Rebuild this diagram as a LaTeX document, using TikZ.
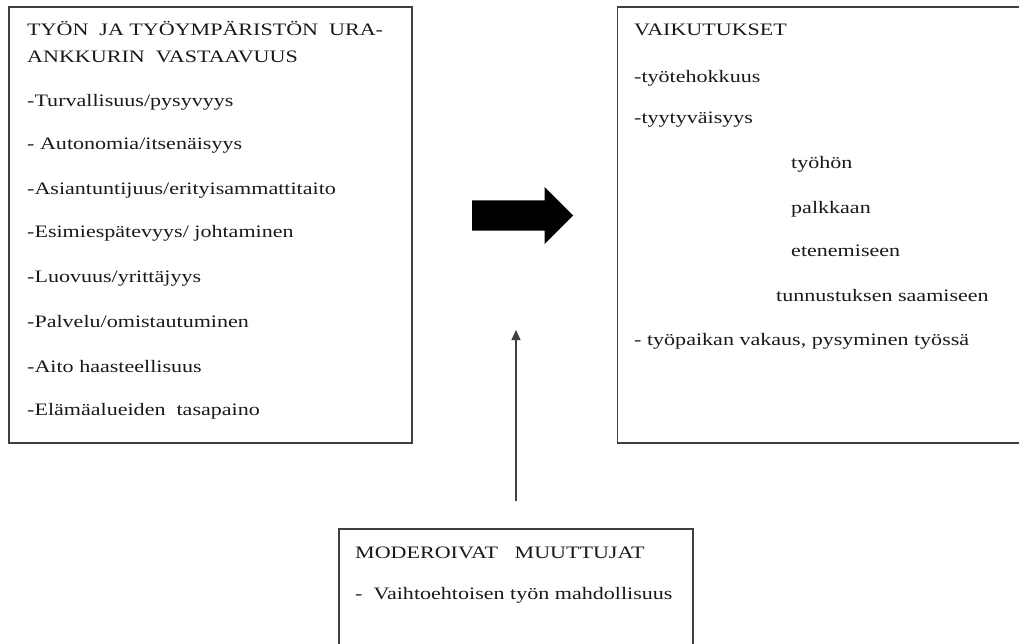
\documentclass[tikz,border=0pt]{standalone}
\usepackage{fontspec}
\setmainfont{Liberation Serif}[FakeStretch=1.26]
\usetikzlibrary{arrows.meta, shapes.arrows}

\begin{document}
\begin{tikzpicture}[
    x=1pt, y=-1pt,
    every node/.style={font=\fontsize{17.5}{20}\selectfont, text=black!90},
    box/.style={rectangle, draw=black!75, line width=1.5pt, inner sep=0pt},
    item/.style={anchor=base west, inner sep=0pt},
    arrow/.style={-{Triangle[length=10pt, width=9pt]}, line width=1.3pt, draw=black!75}
]
\useasboundingbox (0,0) rectangle (1019,644);

% Boxes
\node[box, minimum width=403pt, minimum height=436pt] (ura) at (210.5,225) {};
\node[box, minimum width=409pt, minimum height=436pt] (vaik) at (822,225) {};
\node[box, minimum width=354pt, minimum height=126pt] (mod) at (516,592) {};

% Left box texts
\node[item] (uraA) at (27,36) {TYÖN\ \ JA\ TYÖYMPÄRISTÖN\ \ URA-};
\node[item] (uraB) at (27,63) {ANKKURIN\ \ VASTAAVUUS};
\node[item] (ura1) at (27,107) {-Turvallisuus/pysyvyys};
\node[item] (ura2) at (27,150) {- Autonomia/itsenäisyys};
\node[item] (ura3) at (27,195) {-Asiantuntijuus/erityisammattitaito};
\node[item] (ura4) at (27,238) {-Esimiespätevyys/ johtaminen};
\node[item] (ura5) at (27,282) {-Luovuus/yrittäjyys};
\node[item] (ura6) at (27,327) {-Palvelu/omistautuminen};
\node[item] (ura7) at (27,372) {-Aito haasteellisuus};
\node[item] (ura8) at (27,415) {-Elämäalueiden\ \ tasapaino};

% Right box texts
\node[item] (vaikA) at (634,36) {VAIKUTUKSET};
\node[item] (vaik1) at (634,83) {-työtehokkuus};
\node[item] (vaik2) at (634,124) {-tyytyväisyys};
\node[item] (vaik3) at (791,169) {työhön};
\node[item] (vaik4) at (791,214) {palkkaan};
\node[item] (vaik5) at (791,257) {etenemiseen};
\node[item] (vaik6) at (776,301) {tunnustuksen saamiseen};
\node[item] (vaik7) at (634,345) {- työpaikan vakaus, pysyminen työssä};

% Bottom box texts
\node[item] (modA) at (355,558) {MODEROIVAT\ \ \ MUUTTUJAT};
\node[item] (mod1) at (355,599) {-\ \ Vaihtoehtoisen työn mahdollisuus};

% Arrows
\node[single arrow, fill=black, inner xsep=0pt, inner ysep=15pt, minimum height=101pt,
      single arrow head extend=13.5pt, anchor=tail] (flow) at (472,215.5) {};
\coordinate (modtip) at (516,330);
\draw[arrow, shorten <=27pt] (mod.north) -- (modtip);

\end{tikzpicture}
\end{document}
